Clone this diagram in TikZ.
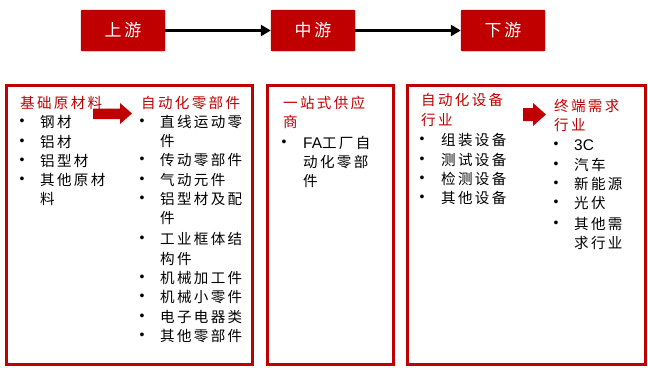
\documentclass[tikz,border=0pt]{standalone}
\usepackage{fontspec}
\setmainfont{Liberation Sans}
\newfontfamily\cjk[LetterSpace=16]{Noto Sans CJK SC}
\newfontfamily\lat{Liberation Sans}
\definecolor{dred}{HTML}{C00000}
\usetikzlibrary{arrows.meta}
\tikzset{
 topbox/.style={fill=dred, draw=dred, rounded corners=1bp, minimum width=84bp, minimum height=41bp, inner sep=0, text=white, font=\fontsize{17}{17}\selectfont\cjk},
 flow/.style={-{Triangle[length=10bp,width=11bp]}, line width=2.6bp, black},
 panel/.style={draw=dred, line width=3bp},
 txt/.style={anchor=west, inner sep=0, text height=13.5bp, text depth=2.5bp, font=\fontsize{14.6}{14.6}\selectfont\cjk},
 head/.style={txt, text=dred},
 bul/.style={anchor=center, inner sep=0, font=\fontsize{14}{14}\selectfont\lat},
}
\newcommand\latin[1]{{\lat\fontsize{15.5}{15.5}\selectfont #1}}
\begin{document}
\begin{tikzpicture}[x=1bp,y=-1bp]
\useasboundingbox (0,0) rectangle (648,367);
% top flow
\node[topbox] (up) at (123,30.5) {上游};
\node[topbox] (mid) at (313,30.5) {中游};
\node[topbox] (down) at (503,30.5) {下游};
\draw[flow] (up.east) -- (mid.west);
\draw[flow] (mid.east) -- (down.west);
% panels
\draw[panel] (6.5,85.5) rectangle (252.5,364.5);
\draw[panel] (267.5,85.5) rectangle (393.5,364.5);
\draw[panel] (407.5,85.5) rectangle (645.5,364.5);
% block arrows
\fill[dred] (93,108.5) -- (120,108.5) -- (120,103) -- (132,113.5) -- (120,124) -- (120,119) -- (93,119) -- cycle;
\fill[dred] (523,108) -- (533,108) -- (533,103) -- (546,114.5) -- (533,126) -- (533,121) -- (523,121) -- cycle;
% panel 1, left column
\node[head] (h1) at (20,103) {基础原材料};
\node[bul] (b11) at (22,122) {•};
\node[txt] (t11) at (40,122) {钢材};
\node[bul] (b12) at (22,142) {•};
\node[txt] (t12) at (40,142) {铝材};
\node[bul] (b13) at (22,161) {•};
\node[txt] (t13) at (40,161) {铝型材};
\node[bul] (b14) at (22,180) {•};
\node[txt] (t14) at (40,180) {其他原材};
\node[txt] (t14b) at (40,199) {料};
% panel 1, right column
\node[head] (h2) at (141,103) {自动化零部件};
\node[bul] (b21) at (142,122) {•};
\node[txt] (t21) at (160,122) {直线运动零};
\node[txt] (t21b) at (160,141) {件};
\node[bul] (b22) at (142,160) {•};
\node[txt] (t22) at (160,160) {传动零部件};
\node[bul] (b23) at (142,180) {•};
\node[txt] (t23) at (160,180) {气动元件};
\node[bul] (b24) at (142,199) {•};
\node[txt] (t24) at (160,199) {铝型材及配};
\node[txt] (t24b) at (160,218) {件};
\node[bul] (b25) at (142,239) {•};
\node[txt] (t25) at (160,239) {工业框体结};
\node[txt] (t25b) at (160,259) {构件};
\node[bul] (b26) at (142,278) {•};
\node[txt] (t26) at (160,278) {机械加工件};
\node[bul] (b27) at (142,297) {•};
\node[txt] (t27) at (160,297) {机械小零件};
\node[bul] (b28) at (142,317) {•};
\node[txt] (t28) at (160,317) {电子电器类};
\node[bul] (b29) at (142,336) {•};
\node[txt] (t29) at (160,336) {其他零部件};
% panel 2
\node[head] (h3) at (283,103) {一站式供应};
\node[head] (h3b) at (283,122) {商};
\node[bul] (b31) at (284,143) {•};
\node[txt] (t31) at (303,143) {\latin{FA}工厂自};
\node[txt] (t31b) at (303,162) {动化零部};
\node[txt] (t31c) at (303,181) {件};
% panel 3, left column
\node[head] (h4) at (421,100) {自动化设备};
\node[head] (h4b) at (421,120) {行业};
\node[bul] (b41) at (422,140) {•};
\node[txt] (t41) at (441,140) {组装设备};
\node[bul] (b42) at (422,160) {•};
\node[txt] (t42) at (441,160) {测试设备};
\node[bul] (b43) at (422,179) {•};
\node[txt] (t43) at (441,179) {检测设备};
\node[bul] (b44) at (422,198) {•};
\node[txt] (t44) at (441,198) {其他设备};
% panel 3, right column
\node[head] (h5) at (554,106) {终端需求};
\node[head] (h5b) at (554,125) {行业};
\node[bul] (b51) at (556,145) {•};
\node[txt] (t51) at (574,145) {\latin{3C}};
\node[bul] (b52) at (556,165) {•};
\node[txt] (t52) at (574,165) {汽车};
\node[bul] (b53) at (556,184) {•};
\node[txt] (t53) at (574,184) {新能源};
\node[bul] (b54) at (556,203) {•};
\node[txt] (t54) at (574,203) {光伏};
\node[bul] (b55) at (556,224) {•};
\node[txt] (t55) at (574,224) {其他需};
\node[txt] (t55b) at (574,243) {求行业};
\end{tikzpicture}
\end{document}
